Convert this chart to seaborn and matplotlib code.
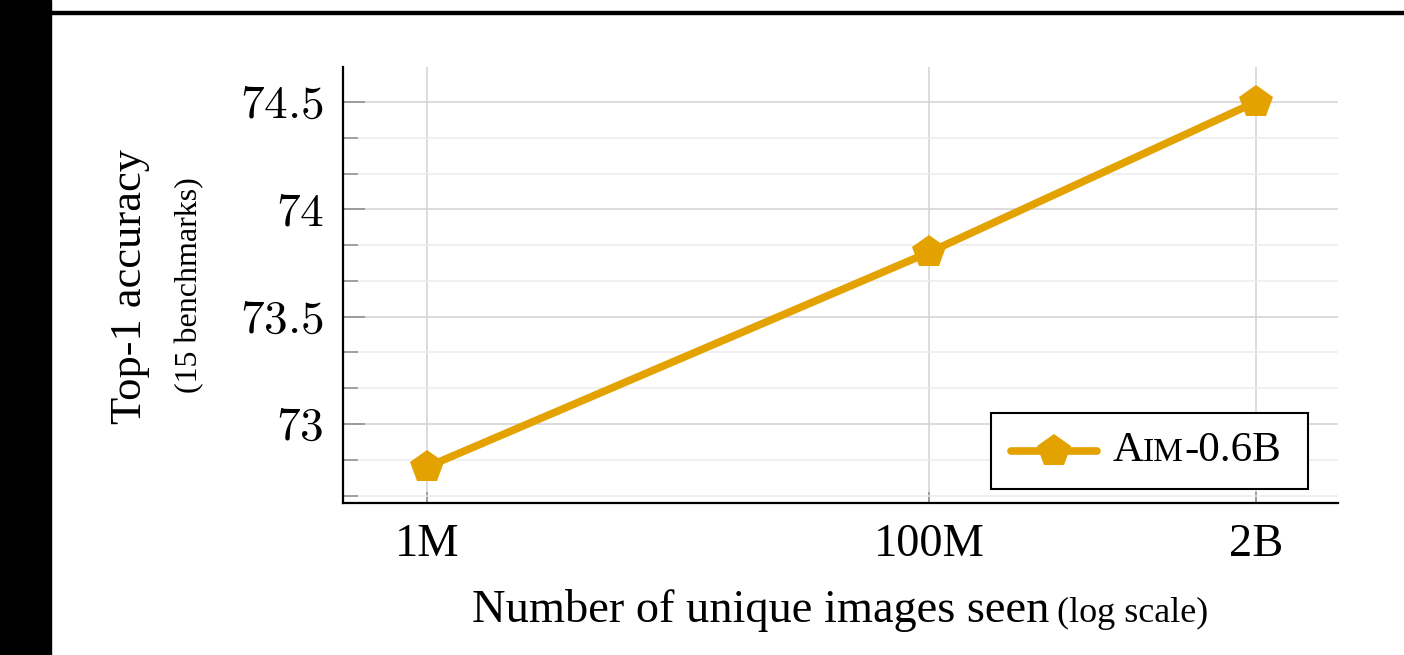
import matplotlib
matplotlib.use("Agg")
import matplotlib.pyplot as plt
import seaborn as sns
import pandas as pd
from matplotlib.lines import Line2D
from matplotlib.patches import Rectangle
from matplotlib.ticker import FixedLocator, AutoMinorLocator, FuncFormatter, NullLocator
from matplotlib.offsetbox import AnchoredOffsetbox, HPacker, TextArea, DrawingArea

# --- data ---
images_seen = [1e6, 1e8, 2e9]
tick_labels = ["1M", "100M", "2B"]
top1_accuracy = [72.8, 73.8, 74.5]
series_name = ("A", "IM", "-0.6B")

COLOR = "#E3A200"
SERIF = ["Liberation Serif", "DejaVu Serif"]

sns.set_theme(style="white")
plt.rcParams["font.family"] = SERIF
plt.rcParams["mathtext.fontset"] = "cm"
plt.rcParams["text.color"] = "black"

W, H, DPI = 1404, 655, 100
fig = plt.figure(figsize=(W / DPI, H / DPI), dpi=DPI, facecolor="white")
ax = fig.add_axes([343 / W, 1 - 503 / H, (1338 - 343) / W, (503 - 67) / H])

df = pd.DataFrame({"images": images_seen, "acc": top1_accuracy})
sns.lineplot(data=df, x="images", y="acc", ax=ax, color=COLOR, linewidth=5.5,
             marker="p", markersize=25, markeredgewidth=0, markeredgecolor=COLOR,
             legend=False, zorder=5)

ax.set_xscale("log")
ax.set_xlim(10 ** 5.665, 10 ** 9.628)
ax.set_ylim(72.632, 74.663)

ax.xaxis.set_major_locator(FixedLocator(images_seen))
ax.xaxis.set_minor_locator(NullLocator())
ax.set_xticklabels(tick_labels)
ax.yaxis.set_major_locator(FixedLocator([73.0, 73.5, 74.0, 74.5]))
ax.yaxis.set_minor_locator(AutoMinorLocator(3))
ax.yaxis.set_major_formatter(FuncFormatter(lambda v, p: f"${v:g}$"))

ax.set_xlabel("")
ax.set_ylabel("")

# grid
ax.grid(True, which="major", axis="both", color="#d2d2d2", linewidth=1.1)
ax.grid(True, which="minor", axis="y", color="#ececec", linewidth=1.1)
ax.set_axisbelow(True)

# spines
for s in ("top", "right"):
    ax.spines[s].set_visible(False)
for s in ("left", "bottom"):
    ax.spines[s].set_color("black")
    ax.spines[s].set_linewidth(1.6)

ax.tick_params(axis="y", which="major", direction="in", length=16, width=1.1,
               color="#8a8a8a", labelsize=34, pad=14, left=True, labelcolor="black")
ax.tick_params(axis="y", which="minor", direction="in", length=11, width=1.1,
               color="#8a8a8a", left=True)
ax.tick_params(axis="x", which="major", direction="in", length=8, width=1.1,
               color="#8a8a8a", labelsize=33.5, pad=15, bottom=True, labelcolor="black")

# y-axis title, two lines
fig.text(130 / W, 1 - 287 / H, "Top-1 accuracy", rotation=90, ha="center",
         va="center", fontsize=32, family=SERIF, color="black")
fig.text(190 / W, 1 - 285 / H, "(15 benchmarks)", rotation=90, ha="center",
         va="center", fontsize=23, family=SERIF, color="black")

# x-axis title with smaller parenthetical
t1 = fig.text(472 / W, 1 - 622 / H, "Number of unique images seen", ha="left",
              va="baseline", fontsize=33.4, family=SERIF, color="black")
fig.canvas.draw()
bb = t1.get_window_extent()
fig.text((bb.x1 + 8) / W, 1 - 622 / H, "(log scale)", ha="left",
         va="baseline", fontsize=26, family=SERIF, color="black")

# legend with small-caps series name
da = DrawingArea(62, 26, 0, 0)
da.add_artist(Line2D([0, 62], [13, 13], color=COLOR, linewidth=5.5))
da.add_artist(Line2D([31], [13], color=COLOR, marker="p", markersize=25,
                     markeredgewidth=0, linestyle="none"))
name_box = HPacker(children=[
    TextArea(series_name[0], textprops=dict(size=31, family=SERIF, color="black")),
    TextArea(series_name[1], textprops=dict(size=24, family=SERIF, color="black")),
    TextArea(series_name[2], textprops=dict(size=31, family=SERIF, color="black")),
], align="baseline", pad=0, sep=0)
inner = HPacker(children=[da, name_box], align="center", pad=0, sep=11)
entry = HPacker(children=[DrawingArea(0.5, 1, 0, 0), inner, DrawingArea(6, 1, 0, 0)],
                align="center", pad=0, sep=0)
leg = AnchoredOffsetbox(loc="lower right", child=entry, pad=1.35, borderpad=0,
                        frameon=True, prop=dict(size=10),
                        bbox_to_anchor=((1308 - 343) / (1338 - 343), (503 - 489) / (503 - 67)),
                        bbox_transform=ax.transAxes)
leg.patch.set_boxstyle("square", pad=0)
leg.patch.set_edgecolor("black")
leg.patch.set_linewidth(1.5)
leg.patch.set_facecolor("white")
leg.set_zorder(10)
ax.add_artist(leg)

# black framing band on the left and rule along the top
fig.add_artist(Rectangle((0, 0), 51 / W, 1, transform=fig.transFigure,
                         color="black", zorder=20))
fig.add_artist(Rectangle((51 / W, 1 - 14 / H), 1, 3 / H, transform=fig.transFigure,
                         color="black", zorder=20))

fig.savefig("out.png", dpi=DPI, facecolor="white")
